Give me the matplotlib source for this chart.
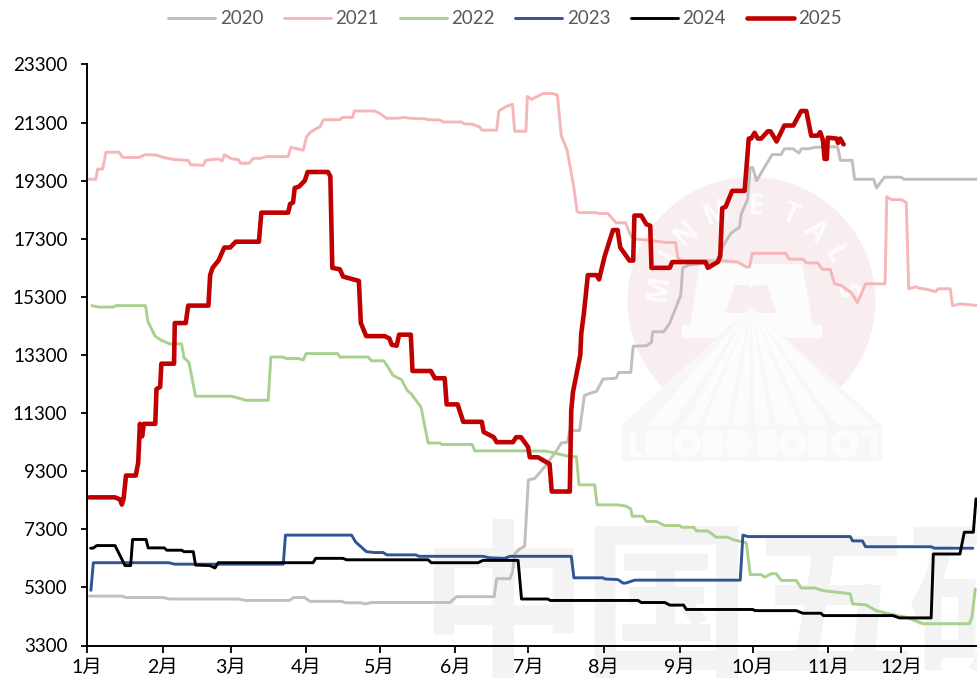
import matplotlib
matplotlib.use("Agg")
import matplotlib.pyplot as plt
from matplotlib.patches import Circle, Polygon, Rectangle
import math

plt.rcParams['font.family'] = ['Lato', 'Noto Sans CJK SC', 'DejaVu Sans']

month_starts = [0, 31, 59, 90, 120, 151, 181, 212, 243, 273, 304, 334]
month_labels = ['1月', '2月', '3月', '4月', '5月', '6月', '7月', '8月', '9月', '10月', '11月', '12月']
y_ticks = [3300, 5300, 7300, 9300, 11300, 13300, 15300, 17300, 19300, 21300, 23300]

d2020 = [1, 14.5, 16, 31.3, 34, 62, 65, 83, 84.7, 89.3, 91.4, 104.4, 106, 112.6, 114, 116.7, 148.8, 151.6, 167, 168,
         173.4, 174.5, 175.4, 177.5, 179.5, 181, 183.6, 187.7, 192.5, 194.5, 197, 198, 202, 204, 205.5, 209, 211.6,
         217, 218, 223, 224, 229.5, 231.5, 232, 236.5, 239, 243.5, 244.3, 247, 258, 261.5, 264.2, 267.6, 268.3, 270.9,
         272, 273, 274.6, 278.5, 281, 284.7, 286, 289.5, 292, 293, 296, 298.4, 307.8, 309, 313.8, 314.8, 322.6, 323.8,
         327, 333.9, 335, 365]
v2020 = [5000, 5000, 4950, 4950, 4900, 4900, 4850, 4850, 4950, 4950, 4820, 4820, 4770, 4770, 4730, 4780, 4780, 4980, 4980, 5600,
         5600, 5820, 6450, 6630, 6720, 9000, 9050, 9450, 10000, 10270, 10300, 10700, 10700, 11900, 11960, 12050, 12470,
         12500, 12700, 12700, 13600, 13620, 13740, 14100, 14100, 14400, 15350, 16300, 16400, 16500, 17150, 17500, 17700, 18150, 18650,
         19750, 19750, 19300, 19850, 20200, 20200, 20400, 20400, 20250, 20400, 20400, 20450, 20470, 20000, 20000, 19350, 19350, 19050,
         19420, 19420, 19350, 19350]

d2021 = [0, 3.6, 4.4, 6.4, 7.8, 13.2, 14.6, 21.4, 23.9, 28.6, 31.3, 35.5, 41.5, 42.5, 47.7, 48.6, 53.8, 55.5, 56.3, 59.3,
         62, 63, 66.5, 68.2, 71, 73.6, 82.5, 83.6, 88.7, 90, 91.4, 94.1, 95.5, 97.1, 103.7, 104.8, 108.9, 109.6, 118, 120,
         122.8, 127.5, 130.3, 132.4, 138.5, 139.8, 144.7, 146, 153.6, 155, 157.7, 161, 162, 168, 168.9, 172, 174.5, 175.4, 180, 180.6,
         182.3, 187, 191, 192.9, 194.5, 196.9, 199.6, 201, 201.8, 208.9, 210, 213.6, 217, 220.9, 222.5, 224, 230.7, 237.6, 241.4, 242.3,
         243.7, 259.5, 266.9, 270.4, 271.7, 272.8, 286.5, 288, 293.6, 295, 299.7, 301.5, 304.8, 306.6, 309.2, 313.4, 316, 319.3, 327.3, 328,
         329.8, 333.9, 336, 337, 340, 341, 344, 348, 349, 354, 355, 358, 363, 365]
v2021 = [19350, 19350, 19700, 19700, 20280, 20280, 20100, 20100, 20200, 20180, 20100, 20030, 20000, 19850, 19830, 20000, 20050, 19980, 20200, 20050,
         20030, 19900, 19900, 20070, 20070, 20130, 20130, 20450, 20350, 20800, 20950, 21100, 21150, 21400, 21400, 21480, 21480, 21700, 21700, 21620,
         21450, 21450, 21480, 21450, 21430, 21400, 21390, 21320, 21320, 21250, 21250, 21150, 21040, 21040, 21700, 21860, 21930, 21000, 21000, 22200,
         22100, 22300, 22300, 22250, 20850, 20350, 19100, 18250, 18200, 18200, 18170, 18170, 17850, 17850, 17500, 17300, 17250, 17170, 17170, 16650,
         16550, 16550, 16500, 16330, 16330, 16800, 16800, 16600, 16600, 16470, 16470, 16250, 16250, 15750, 15700, 15450, 15100, 15750, 15750, 18750,
         18650, 18650, 18550, 15580, 15650, 15600, 15570, 15480, 15580, 15580, 15000, 15060, 15020, 15000]

d2022 = [2, 5, 10.7, 12, 24, 25, 27.9, 30.6, 34, 38.8, 39.8, 41.8, 44.5, 59.3, 65.4, 74.3, 75.4, 80.4, 81.8, 86.6,
         88.7, 89.9, 102.7, 103.7, 115.3, 116.7, 121.7, 123.5, 125.5, 129, 131.3, 133, 137, 139.9, 144.7, 145.5, 158, 159, 181.6, 188.4,
         193, 198, 200.7, 201.8, 208.2, 209.2, 217.7, 221, 223, 223.6, 228, 229.4, 233.5, 236.9, 243, 244, 248.8, 249.9, 254.6, 258,
         262.7, 264.8, 270.4, 272, 276.5, 277.9, 280.6, 282.7, 284.7, 290.9, 292.9, 298.4, 301.8, 313, 314, 319.5, 323.6, 329, 336, 342.8,
         361.9, 362.9, 364.3]
v2022 = [15000, 14950, 14950, 15000, 15000, 14450, 13950, 13800, 13680, 13680, 13200, 13050, 11880, 11880, 11740, 11740, 13230, 13230, 13180, 13180,
         13130, 13350, 13350, 13230, 13230, 13100, 13100, 12880, 12600, 12450, 12080, 11960, 11500, 10270, 10270, 10220, 10220, 10000, 10000, 9990,
         9900, 9800, 9800, 8830, 8830, 8140, 8140, 8100, 8000, 7750, 7750, 7570, 7570, 7430, 7430, 7370, 7370, 7245, 7245, 7030,
         7030, 6950, 6830, 5740, 5740, 5650, 5770, 5770, 5540, 5540, 5280, 5280, 5190, 5080, 4730, 4700, 4500, 4390, 4270, 4050,
         4050, 4270, 5250]

d2023 = [1.6, 2.6, 33.4, 36, 80.5, 81.4, 108.5, 110.2, 114.6, 118, 121.4, 123, 134.8, 136.2, 162.4, 165, 171.3, 173.4, 198.6, 199.7,
         211.6, 212.5, 217.7, 219.8, 221, 224.6, 267.9, 269, 271, 313, 314, 318, 319.3, 346.2, 347.5, 363.3]
v2023 = [5200, 6150, 6150, 6100, 6100, 7100, 7100, 6860, 6530, 6500, 6500, 6420, 6420, 6370, 6370, 6320, 6300, 6370, 6370, 5630,
         5630, 5590, 5570, 5450, 5450, 5550, 5550, 7100, 7050, 7050, 6900, 6900, 6700, 6700, 6650, 6650]

d2024 = [1.5, 2.5, 4, 11.5, 15.6, 17.9, 18.7, 24.2, 25.1, 31.7, 32.7, 38.8, 39.8, 43.6, 44.5, 50.4, 52.5, 53.8, 92.7, 93.8,
         105, 106.4, 139.9, 141.2, 160.4, 162.4, 176.8, 178.2, 189, 190, 226, 227.3, 237, 239, 244.7, 245.8, 273, 274, 290.9, 293.6,
         301, 302, 330.5, 333.2, 346.2, 347.1, 358, 359.8, 363.5, 364.6]
v2024 = [6650, 6650, 6740, 6740, 6050, 6050, 6950, 6950, 6660, 6660, 6580, 6580, 6530, 6530, 6070, 6050, 5970, 6150, 6150, 6300,
         6300, 6250, 6250, 6150, 6150, 6230, 6230, 4900, 4900, 4850, 4850, 4780, 4780, 4690, 4690, 4540, 4540, 4500, 4500, 4410,
         4410, 4330, 4330, 4250, 4250, 6450, 6450, 7200, 7200, 8350]

d2025 = [1, 11.5, 13.5, 14.3, 15, 16, 20, 21, 21.7, 22.6, 23.3, 28, 28.5, 30, 30.5, 35.7, 36, 40.5, 41.5, 49.8,
         50.5, 51.5, 54, 56.3, 58.7, 61, 70.5, 71.5, 82.5, 83.3, 84.5, 85.2, 87, 89.3, 90.5, 98.8, 99.8, 100.6, 103.7, 105,
         111.5, 112.3, 114.5, 122, 124, 125, 127, 128, 132.8, 133.5, 141, 142.7, 146.7, 147.5, 152, 154.3, 161.9, 162.7, 165, 166.8,
         168, 174.7, 176, 178, 180.9, 181.6, 184.9, 189.7, 190.6, 198, 198.6, 199.3, 202.3, 202.7, 203.8, 205.4, 209, 210, 212.3, 215.7,
         217.6, 218.7, 222.5, 224, 224.5, 227.3, 229.4, 231, 231.5, 239, 240, 253.7, 254.6, 258.7, 259.7, 260.5, 261.9, 264.6, 269.7, 271.4,
         272.4, 273.8, 275.1, 276.5, 279.2, 280.3, 282.8, 286, 289.7, 292.9, 295, 297, 299.7, 300.7, 301.8, 302.5, 303.4, 303.8, 307.5, 308,
         308.9, 310.3]
v2025 = [8400, 8400, 8330, 8150, 8350, 9150, 9150, 9600, 10930, 10500, 10930, 10930, 12130, 12200, 13000, 13000, 14400, 14400, 15000, 15000,
         16050, 16300, 16560, 17000, 17000, 17200, 17200, 18200, 18200, 18500, 18550, 19050, 19100, 19300, 19600, 19600, 19450, 16300, 16250, 16000,
         15850, 14400, 13950, 13950, 13870, 13650, 13620, 14000, 14000, 12750, 12750, 12500, 12500, 11600, 11600, 11000, 11000, 10650, 10550, 10470,
         10300, 10300, 10470, 10470, 10130, 9780, 9780, 9550, 8600, 8600, 11400, 12020, 13300, 14040, 14750, 16050, 16050, 15900, 16700, 17600,
         17600, 17000, 16550, 16550, 18100, 18100, 17800, 17750, 16300, 16300, 16500, 16500, 16300, 16500, 16700, 18350, 18400, 18950, 18950, 20750,
         20750, 20950, 20750, 20750, 21000, 21000, 20650, 21200, 21200, 21700, 21700, 20850, 20850, 20970, 20700, 20050, 20050, 20780, 20750, 20600,
         20750, 20550]

series = [
    ('2020', d2020, v2020, '#BFBFBF', 2.1),
    ('2021', d2021, v2021, '#F4B6B9', 2.1),
    ('2022', d2022, v2022, '#A9D18E', 2.1),
    ('2023', d2023, v2023, '#2F5597', 2.1),
    ('2024', d2024, v2024, '#000000', 2.1),
    ('2025', d2025, v2025, '#C00000', 3.3),
]

fig = plt.figure(figsize=(9.77, 6.84), dpi=100, facecolor='white')

# ---- faint watermark behind the chart ----
bg = fig.add_axes([0, 0, 1, 1], zorder=0)
bg.set_xlim(0, 977)
bg.set_ylim(684, 0)
bg.axis('off')

wm_cx, wm_cy, wm_r = 751.5, 301, 124
bg.add_patch(Circle((wm_cx, wm_cy), wm_r, fc='#F9EEEF', ec='none'))
word = 'MINMETALS'
angles = [-82, -61, -44, -21.6, 2.5, 24, 43, 61, 84]
for ch, a in zip(word, angles):
    ra = math.radians(a)
    bg.text(wm_cx + 94 * math.sin(ra), wm_cy - 94 * math.cos(ra), ch, rotation=-a,
            ha='center', va='center', fontsize=20, fontweight='bold', color='#FEFCFC',
            family=['Open Sans', 'DejaVu Sans'])
bg.add_patch(Polygon([(700, 264), (802, 264), (813, 325), (822, 325), (822, 338), (682, 338), (682, 325), (690, 325)],
                     fc='#FDFCFC', ec='none'))
bg.add_patch(Polygon([(725, 313), (735, 285), (750, 285), (752, 292), (753, 285), (767, 285), (777, 313)],
                     fc='#F9EEEF', ec='none'))
bg.add_patch(Polygon([(751, 306), (622, 425), (622, 461), (882, 461), (882, 425)], fc='#F7F7F7', ec='none'))
for a, b in [(110, 185), (220, 265), (280, 350), (370, 415), (435, 480), (500, 570), (590, 655), (680, 790)]:
    bg.add_patch(Polygon([(751, 307), (610 + a / 3, 425), (610 + b / 3, 425)], fc='#FCFCFC', ec='none'))
wm_light = '#FCFCFC'
for x0, x1 in [(630, 636), (645, 672), (703, 723), (757, 777), (808, 827), (871, 877)]:
    bg.add_patch(Rectangle((x0, 430), x1 - x0, 27, fc=wm_light, ec='none'))
bg.add_patch(Rectangle((630, 451), 13, 6, fc=wm_light, ec='none'))
bg.add_patch(Rectangle((862, 430), 15, 6, fc=wm_light, ec='none'))
for cx in (687, 792, 845):
    bg.add_patch(Circle((cx, 443.5), 14, fc=wm_light, ec='none'))
    bg.add_patch(Circle((cx, 443.5), 5, fc='#F7F7F7', ec='none'))
bg.add_patch(Polygon([(723, 443.5), (730, 430), (746, 430), (753, 443.5), (746, 457), (730, 457)], fc=wm_light, ec='none'))
for ch, cx in zip('中国五矿', (503, 666, 832, 992)):
    bg.text(cx, 614, ch, ha='center', va='center', fontsize=122, fontweight='bold', color='#F3F3F3',
            family=['Noto Sans CJK SC'])

# ---- chart ----
ax = fig.add_axes([87 / 977, 1 - 645.5 / 684, 890 / 977, 581 / 684], zorder=1)
ax.patch.set_visible(False)
for name, xs, ys, col, lw in series:
    ax.plot(xs, ys, color=col, lw=lw, label=name, solid_joinstyle='round', solid_capstyle='round')

ax.set_xlim(0, 365)
ax.set_ylim(3300, 23300)
ax.set_yticks(y_ticks)
ax.set_xticks(month_starts)
ax.set_xticklabels(month_labels)
ax.tick_params(axis='y', length=4, width=1.3, labelsize=13.5, labelfontfamily=None, pad=10, colors='black')
ax.tick_params(axis='x', length=5, width=1.3, labelsize=14, pad=5, colors='black')
ax.spines['top'].set_visible(False)
ax.spines['right'].set_visible(False)
for s in ('left', 'bottom'):
    ax.spines[s].set_linewidth(1.4)

leg = fig.legend(*ax.get_legend_handles_labels(), loc='center', bbox_to_anchor=(505 / 977, 1 - 19 / 684), ncol=6,
                 frameon=False, fontsize=13.5, handlelength=2.5, handletextpad=0.25, columnspacing=1.1,
                 labelcolor='#595959', borderpad=0, borderaxespad=0)

fig.savefig('out.png', dpi=100)
